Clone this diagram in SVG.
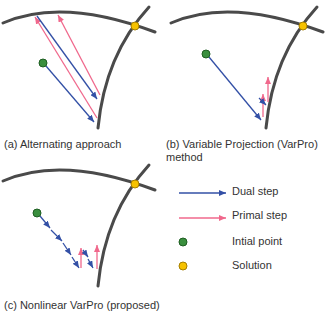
<svg xmlns="http://www.w3.org/2000/svg" xmlns:xlink="http://www.w3.org/1999/xlink" width="326" height="314" viewBox="0 0 326 314">
<style>
.curve{fill:none;stroke:#4a4a4a;stroke-width:3;stroke-linecap:round}
.dual{fill:none;stroke:#3350a6;stroke-width:1.3;marker-end:url(#mb)}
.primal{fill:none;stroke:#f0688c;stroke-width:1.3;marker-end:url(#mp)}
.init{fill:#3a8f3e;stroke:#1f5e22;stroke-width:1}
.sol{fill:#f6c200;stroke:#a67f00;stroke-width:1}
text{font-family:"Liberation Sans",Arial,sans-serif;font-size:11px;fill:#333}
</style>
<defs>
<marker id="mb" markerUnits="userSpaceOnUse" markerWidth="8" markerHeight="6" refX="7" refY="3" orient="auto"><path d="M0,0 L7,3 L0,6 Z" fill="#3350a6"/></marker>
<marker id="mp" markerUnits="userSpaceOnUse" markerWidth="8" markerHeight="6" refX="7" refY="3" orient="auto"><path d="M0,0 L7,3 L0,6 Z" fill="#f0688c"/></marker>
<g id="curves">
<path class="curve" d="M3,23 Q62,-3 155,32"/>
<path class="curve" d="M149,7 Q105,55 98,128"/>
</g>
</defs>
<g id="panel-a-curves"><use xlink:href="#curves" href="#curves"/></g>
<g id="panel-b-curves"><use xlink:href="#curves" href="#curves" transform="translate(168,0)"/></g>
<g id="panel-c-curves"><use xlink:href="#curves" href="#curves" transform="translate(0,158)"/></g>
<g id="connectors">
<path class="dual" d="M46,66 L94,122"/>
<path class="primal" d="M97,118 L35,17"/>
<path class="dual" d="M37,16 L97,99"/>
<path class="primal" d="M100,95 L58,15"/>
<path class="dual" d="M209,57 L261,120"/>
<path class="primal" d="M263,117 L263,94"/>
<path class="dual" d="M259,98 L266,105"/>
<path class="primal" d="M268,102 L268,77"/>
<path class="dual" d="M40,216 L50,228"/>
<path class="dual" d="M51,230 L62,241"/>
<path class="dual" d="M63,243 L71,255"/>
<path class="dual" d="M72,257 L79,268"/>
<path class="primal" d="M81,268 L81,248"/>
<path class="dual" d="M83,250 L88,257"/>
<path class="dual" d="M88,259 L93,268"/>
<path class="primal" d="M97,269 L97,245"/>
<path class="dual" d="M179,193 L226,193"/>
<path class="primal" d="M179,218 L226,218"/>
</g>
<g id="solution-a"><circle class="sol" cx="135" cy="26" r="4"/></g>
<g id="solution-b"><circle class="sol" cx="303" cy="26" r="4"/></g>
<g id="solution-c"><circle class="sol" cx="135" cy="184" r="4"/></g>
<g id="initial-a"><circle class="init" cx="43" cy="63" r="4"/></g>
<g id="initial-b"><circle class="init" cx="206" cy="54" r="4"/></g>
<g id="initial-c"><circle class="init" cx="37" cy="213" r="4"/></g>
<g id="legend">
<text x="232" y="195">Dual step</text>
<text x="232" y="219">Primal step</text>
<circle class="init" cx="183" cy="242" r="4"/>
<text x="232" y="245">Intial point</text>
<circle class="sol" cx="183" cy="266" r="4"/>
<text x="232" y="269">Solution</text>
</g>
<g id="labels">
<text x="4" y="148">(a) Alternating approach</text>
<text x="166" y="148">(b) Variable Projection (VarPro)</text>
<text x="166" y="161">method</text>
<text x="4" y="309">(c) Nonlinear VarPro (proposed)</text>
</g>
</svg>
